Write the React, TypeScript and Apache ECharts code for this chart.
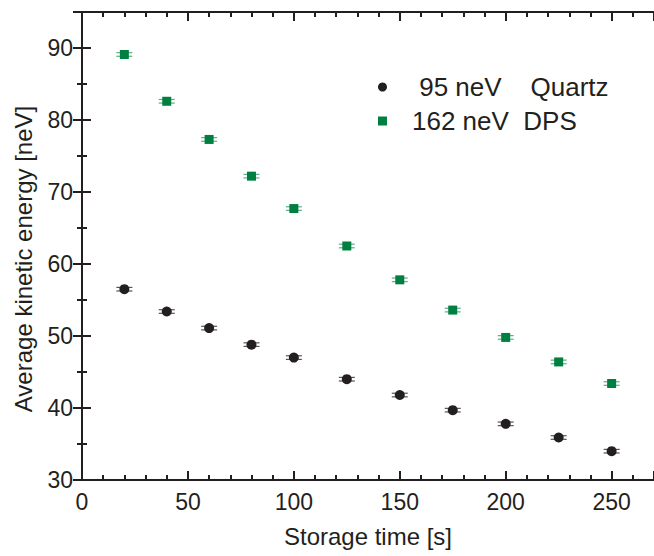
import React, { useEffect, useRef } from "react";
import * as echarts from "echarts";

const storageTimes = [20, 40, 60, 80, 100, 125, 150, 175, 200, 225, 250];
const quartzEnergy = [56.5, 53.4, 51.1, 48.8, 47.0, 44.0, 41.8, 39.7, 37.8, 35.9, 34.0];
const dpsEnergy = [89.1, 82.6, 77.3, 72.2, 67.7, 62.5, 57.8, 53.6, 49.8, 46.4, 43.4];
const quartzErr = [0.25, 0.25, 0.25, 0.25, 0.25, 0.25, 0.25, 0.25, 0.25, 0.25, 0.25];
const dpsErr = [0.25, 0.25, 0.25, 0.25, 0.25, 0.25, 0.25, 0.25, 0.25, 0.25, 0.25];

const NB = "\u00a0";
const quartzName = NB + "95 neV" + NB + NB + NB + NB + "Quartz";
const dpsName = "162 neV" + NB + NB + "DPS";

const FONT = "'Liberation Sans', Arial, sans-serif";
const TXT = "#231f20";
const GREEN = "#008040";

function errSeries(xs: number[], ys: number[], es: number[], color: string) {
  return {
    type: "custom",
    silent: true,
    z: 1,
    data: xs.map((x, i) => [x, ys[i], es[i]]),
    renderItem: (params: any, api: any) => {
      const x = api.value(0);
      const y = api.value(1);
      const e = api.value(2);
      const top = api.coord([x, y + e]);
      const bot = api.coord([x, y - e]);
      const hw = 8;
      const style = { stroke: color, lineWidth: 1.2 };
      return {
        type: "group",
        children: [
          { type: "line", shape: { x1: top[0] - hw, y1: top[1], x2: top[0] + hw, y2: top[1] }, style },
          { type: "line", shape: { x1: bot[0] - hw, y1: bot[1], x2: bot[0] + hw, y2: bot[1] }, style },
          { type: "line", shape: { x1: top[0], y1: top[1], x2: bot[0], y2: bot[1] }, style },
        ],
      };
    },
  };
}

export default function App() {
  const ref = useRef<HTMLDivElement>(null);
  useEffect(() => {
    if (!ref.current) return;
    const chart = echarts.init(ref.current, undefined, { renderer: "svg" });
    const axisLine = { show: true, lineStyle: { color: TXT, width: 2 } };
    const axisTick = { show: true, inside: true, length: 9, lineStyle: { color: TXT, width: 2 } };
    const minorTick = { show: true, length: 5, lineStyle: { color: TXT, width: 2 } };
    const labelStyle = { color: TXT, fontSize: 23, fontFamily: FONT };
    chart.setOption({
      animation: false,
      backgroundColor: "#ffffff",
      grid: { left: 82, top: 12, right: -4, bottom: 76 },
      legend: {
        data: [
          { name: quartzName, icon: "circle", itemStyle: { color: TXT } },
          { name: dpsName, icon: "rect", itemStyle: { color: GREEN } },
        ],
        orient: "vertical",
        left: 373,
        top: 69,
        itemWidth: 9,
        itemHeight: 9,
        itemGap: 8,
        textStyle: { color: TXT, fontSize: 26, fontFamily: FONT, padding: [0, 0, 0, 20] },
      },
      xAxis: [
        {
          type: "value",
          min: 0,
          max: 270,
          interval: 50,
          position: "bottom",
          axisLine,
          axisTick,
          minorTick: { ...minorTick, splitNumber: 5 },
          splitLine: { show: false },
          minorSplitLine: { show: false },
          axisLabel: { ...labelStyle, margin: 10, showMaxLabel: false },
          name: "Storage time [s]",
          nameLocation: "middle",
          nameGap: 44,
          nameTextStyle: { color: TXT, fontSize: 24, fontFamily: FONT },
        },
        {
          type: "value",
          min: 0,
          max: 270,
          interval: 50,
          position: "top",
          axisLine,
          axisTick,
          minorTick: { ...minorTick, splitNumber: 5 },
          splitLine: { show: false },
          axisLabel: { show: false },
        },
      ],
      yAxis: [
        {
          type: "value",
          min: 30,
          max: 95,
          interval: 10,
          position: "left",
          axisLine,
          axisTick,
          minorTick: { ...minorTick, splitNumber: 2 },
          splitLine: { show: false },
          axisLabel: { ...labelStyle, margin: 9, showMaxLabel: false },
          name: "Average kinetic energy [neV]",
          nameLocation: "middle",
          nameGap: 47,
          nameTextStyle: { color: TXT, fontSize: 24, fontFamily: FONT, padding: [0, 26, 0, 0] },
        },
        {
          type: "value",
          min: 30,
          max: 95,
          interval: 10,
          position: "right",
          axisLine,
          axisTick,
          minorTick: { ...minorTick, splitNumber: 2 },
          splitLine: { show: false },
          axisLabel: { show: false },
        },
      ],
      series: [
        errSeries(storageTimes, quartzEnergy, quartzErr, "#555555"),
        errSeries(storageTimes, dpsEnergy, dpsErr, "#5fae84"),
        {
          name: quartzName,
          type: "scatter",
          symbol: "circle",
          symbolSize: 10,
          z: 3,
          itemStyle: { color: TXT, opacity: 1 },
          data: storageTimes.map((x, i) => [x, quartzEnergy[i]]),
        },
        {
          name: dpsName,
          type: "scatter",
          symbol: "rect",
          symbolSize: 9,
          z: 3,
          itemStyle: { color: GREEN, opacity: 1 },
          data: storageTimes.map((x, i) => [x, dpsEnergy[i]]),
        },
      ],
    });
    return () => chart.dispose();
  }, []);
  return <div ref={ref} style={{ width: 654, height: 556, position: "absolute", left: 0, top: 0 }} />;
}
